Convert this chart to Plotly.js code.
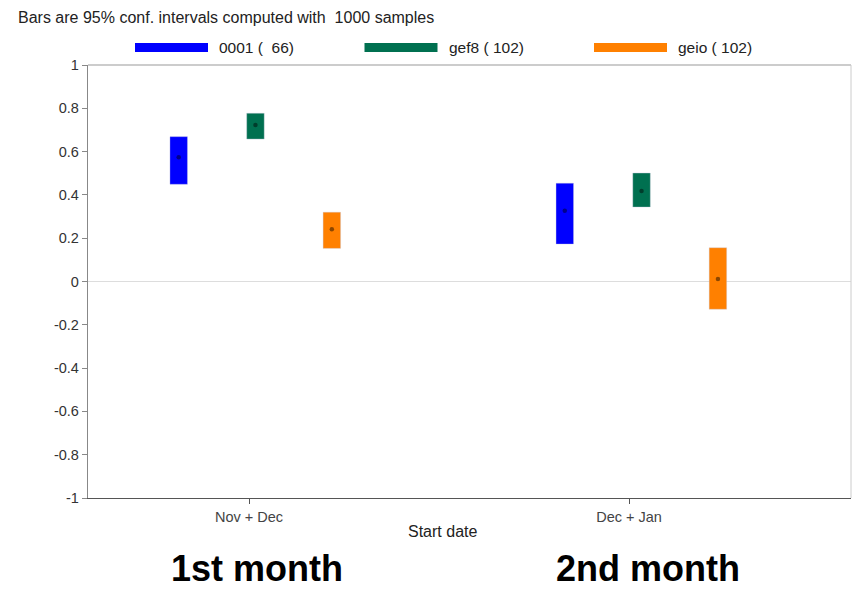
<!DOCTYPE html>
<html>
<head>
<meta charset="utf-8">
<script src="https://cdn.plot.ly/plotly-3.0.1.min.js"></script>
<style>
html,body{margin:0;padding:0;background:#fff;}
#chart{width:852px;height:589px;}
</style>
</head>
<body>
<div id="chart"></div>
<script>
// ---- data ----
var categories = ["Nov + Dec", "Dec + Jan"];
var monthLabels = ["1st month", "2nd month"];
var seriesNames = ["0001 (  66)", "gef8 ( 102)", "geio ( 102)"];
var seriesColors = ["#0000ff", "#007050", "#ff8000"];

var lower_0001 = [0.449, 0.173];
var upper_0001 = [0.669, 0.454];
var mean_0001  = [0.574, 0.327];

var lower_gef8 = [0.658, 0.344];
var upper_gef8 = [0.777, 0.501];
var mean_gef8  = [0.723, 0.418];

var lower_geio = [0.153, -0.128];
var upper_geio = [0.320, 0.156];
var mean_geio  = [0.241, 0.012];

var yTickVals = [-1, -0.8, -0.6, -0.4, -0.2, 0, 0.2, 0.4, 0.6, 0.8, 1];
var yTickText = ["-1", "-0.8", "-0.6", "-0.4", "-0.2", "0", "0.2", "0.4", "0.6", "0.8", "1"];

var titleText = "Bars are 95% conf. intervals computed with  1000 samples";
var xTitleText = "Start date";

// ---- build ----
var lowers = [lower_0001, lower_gef8, lower_geio];
var uppers = [upper_0001, upper_gef8, upper_geio];
var means = [mean_0001, mean_gef8, mean_geio];
var seriesOffset = [-0.177, 0.025, 0.226];
var groupShift = [-0.008, 0.008];
var catPos = categories.map(function(c, i){ return i + 1; });

var FONT = "Liberation Sans, Arial, Helvetica, sans-serif";
var traces = [];
for (var s = 0; s < 3; s++) {
  var xs = catPos.map(function(p, g){ return p + seriesOffset[s] + groupShift[g]; });
  traces.push({
    type: "bar",
    x: xs,
    base: lowers[s],
    y: uppers[s].map(function(u, g){ return u - lowers[s][g]; }),
    width: 0.046,
    marker: {color: seriesColors[s], line: {color: "rgba(200,200,220,0.6)", width: 0.6}},
    name: seriesNames[s],
    showlegend: false,
    hoverinfo: "skip"
  });
  traces.push({
    type: "scatter",
    mode: "markers",
    x: xs,
    y: means[s],
    marker: {size: 4.5, color: "rgba(0,0,0,0.45)"},
    showlegend: false,
    hoverinfo: "skip"
  });
}

var L = 88, R = 851, T = 65, B = 498;
var W = R - L, H = B - T;
function px2paperX(px){ return (px - L) / W; }
function py2paperY(py){ return (B - py) / H; }

var shapes = [
  {type: "line", xref: "paper", yref: "paper", x0: 0, x1: 1, y0: 1, y1: 1, line: {color: "#999", width: 1.2}},
  {type: "line", xref: "paper", yref: "paper", x0: 1, x1: 1, y0: 0, y1: 1, line: {color: "#ccc", width: 1}}
];
var annotations = [];
for (var i = 0; i < 3; i++) {
  var rx0 = 135 + i * 229.5, rx1 = rx0 + 73;
  shapes.push({type: "rect", xref: "paper", yref: "paper",
    x0: px2paperX(rx0), x1: px2paperX(rx1), y0: py2paperY(52), y1: py2paperY(43),
    fillcolor: seriesColors[i], line: {width: 0}});
  annotations.push({xref: "paper", yref: "paper", x: px2paperX(rx1 + 9), y: py2paperY(47.5),
    xanchor: "left", yanchor: "middle", showarrow: false, text: seriesNames[i],
    font: {family: FONT, size: 15.5, color: "#222"}});
}
annotations.push({xref: "x", yref: "paper", x: 1.51, y: py2paperY(531), xanchor: "center", yanchor: "middle",
  showarrow: false, text: xTitleText, font: {family: FONT, size: 16, color: "#222"}});
monthLabels.forEach(function(m, g){
  annotations.push({xref: "x", yref: "paper", x: catPos[g] + 0.022 + 0.027 * g, y: py2paperY(568), xanchor: "center", yanchor: "middle",
    showarrow: false, text: "<b>" + m + "</b>", font: {family: FONT, size: 36, color: "#000"}});
});

var layout = {
  width: 852, height: 589,
  margin: {l: L, r: 852 - R, t: T, b: 589 - B, pad: 0},
  paper_bgcolor: "#fff", plot_bgcolor: "#fff",
  title: {text: titleText, xref: "container", yref: "container", x: 18/852, xanchor: "left",
    y: 1 - 17/589, yanchor: "middle", font: {family: FONT, size: 16, color: "#222"}},
  showlegend: false,
  barmode: "overlay",
  xaxis: {range: [1 - (249 - L)/380, 2 + (R - 629)/380], tickvals: catPos, ticktext: categories,
    ticks: "outside", ticklen: 5, tickcolor: "#555", showgrid: false, zeroline: false,
    showline: true, linecolor: "#555", linewidth: 1.2,
    tickfont: {family: FONT, size: 14.5, color: "#444"}},
  yaxis: {range: [-1, 1], tickvals: yTickVals, ticktext: yTickText, ticks: "outside", ticklen: 5,
    tickcolor: "#888", showgrid: false, zeroline: true, zerolinecolor: "#ddd", zerolinewidth: 1,
    showline: true, linecolor: "#888", linewidth: 1.2,
    tickfont: {family: FONT, size: 14.5, color: "#333"}},
  shapes: shapes,
  annotations: annotations
};

Plotly.newPlot("chart", traces, layout, {displayModeBar: false, staticPlot: true});
</script>
</body>
</html>
